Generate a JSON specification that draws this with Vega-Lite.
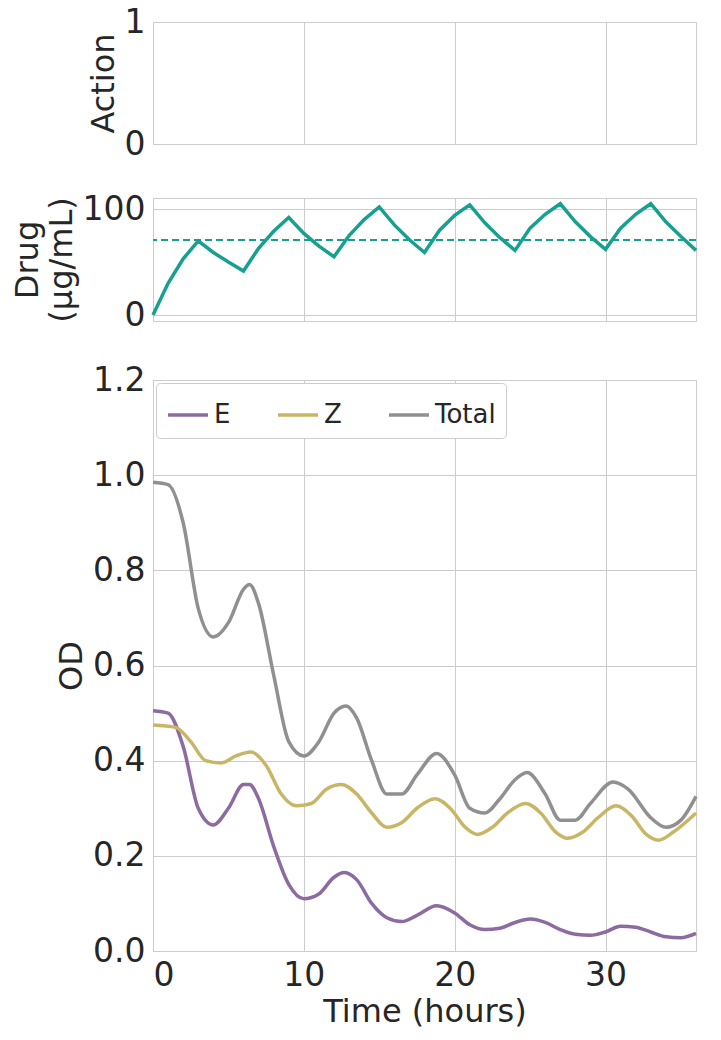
{
 "$schema": "https://vega.github.io/schema/vega-lite/v6.json",
 "padding": {"left": 10, "top": 5, "right": 8, "bottom": 5},
 "spacing": 30,
 "resolve": {"scale": {"color": "independent"}, "legend": {"color": "independent"}},
 "config": {
  "font": "DejaVu Sans",
  "view": {"stroke": "#cccccc"},
  "axis": {"domain": false, "ticks": false, "gridColor": "#cccccc", "labelFontSize": 33, "titleFontSize": 32, "labelColor": "#262626", "titleColor": "#262626", "titleFontWeight": "normal", "labelPadding": 8},
  "legend": {"labelFontSize": 26, "labelColor": "#262626"}
 },
 "datasets": {
  "action": [{"t": 0, "a": 0}, {"t": 36, "a": 0}],
  "drug": [
   {"t":0,"d":0},{"t":1,"d":30},{"t":2,"d":53},{"t":3,"d":70},{"t":4,"d":59},{"t":5,"d":50},{"t":6,"d":41.5},
   {"t":7,"d":63},{"t":8,"d":79},{"t":9,"d":92},{"t":10,"d":77},{"t":11,"d":65},{"t":12,"d":55},
   {"t":13,"d":75},{"t":14,"d":90},{"t":15,"d":102},{"t":16,"d":85},{"t":17,"d":71},{"t":18,"d":59},
   {"t":19,"d":80},{"t":20,"d":94},{"t":21,"d":104},{"t":22,"d":87},{"t":23,"d":73},{"t":24,"d":61},
   {"t":25,"d":82},{"t":26,"d":95},{"t":27,"d":105},{"t":28,"d":88},{"t":29,"d":74},{"t":30,"d":62},
   {"t":31,"d":82},{"t":32,"d":95},{"t":33,"d":105},{"t":34,"d":88},{"t":35,"d":74},{"t":36,"d":61}
  ],
  "od": [
   {"s":"Total","t":0,"v":0.985},{"s":"Total","t":1,"v":0.98},{"s":"Total","t":2,"v":0.9},{"s":"Total","t":3,"v":0.72},{"s":"Total","t":4,"v":0.66},{"s":"Total","t":5,"v":0.69},{"s":"Total","t":6,"v":0.76},{"s":"Total","t":6.4,"v":0.77},{"s":"Total","t":7,"v":0.73},{"s":"Total","t":8,"v":0.58},{"s":"Total","t":9,"v":0.44},{"s":"Total","t":10,"v":0.41},{"s":"Total","t":11,"v":0.44},{"s":"Total","t":12,"v":0.5},{"s":"Total","t":12.8,"v":0.515},{"s":"Total","t":13.5,"v":0.49},{"s":"Total","t":14.5,"v":0.4},{"s":"Total","t":15.5,"v":0.33},{"s":"Total","t":16.5,"v":0.33},{"s":"Total","t":17.5,"v":0.37},{"s":"Total","t":18.8,"v":0.415},{"s":"Total","t":20,"v":0.37},{"s":"Total","t":21,"v":0.3},{"s":"Total","t":22,"v":0.29},{"s":"Total","t":23,"v":0.32},{"s":"Total","t":24,"v":0.36},{"s":"Total","t":24.8,"v":0.375},{"s":"Total","t":26,"v":0.33},{"s":"Total","t":27,"v":0.275},{"s":"Total","t":28,"v":0.275},{"s":"Total","t":29,"v":0.31},{"s":"Total","t":30.5,"v":0.355},{"s":"Total","t":31.5,"v":0.34},{"s":"Total","t":33,"v":0.28},{"s":"Total","t":34,"v":0.26},{"s":"Total","t":35,"v":0.275},{"s":"Total","t":36,"v":0.325},
   {"s":"E","t":0,"v":0.505},{"s":"E","t":1,"v":0.5},{"s":"E","t":2,"v":0.43},{"s":"E","t":3,"v":0.3},{"s":"E","t":4,"v":0.265},{"s":"E","t":5,"v":0.3},{"s":"E","t":6,"v":0.35},{"s":"E","t":6.4,"v":0.35},{"s":"E","t":7,"v":0.32},{"s":"E","t":8,"v":0.22},{"s":"E","t":9,"v":0.14},{"s":"E","t":10,"v":0.11},{"s":"E","t":11,"v":0.12},{"s":"E","t":12,"v":0.155},{"s":"E","t":12.7,"v":0.165},{"s":"E","t":13.5,"v":0.15},{"s":"E","t":14.5,"v":0.1},{"s":"E","t":15.5,"v":0.07},{"s":"E","t":16.5,"v":0.062},{"s":"E","t":17.5,"v":0.075},{"s":"E","t":18.8,"v":0.095},{"s":"E","t":20,"v":0.08},{"s":"E","t":21,"v":0.055},{"s":"E","t":22,"v":0.045},{"s":"E","t":23,"v":0.048},{"s":"E","t":24,"v":0.06},{"s":"E","t":25,"v":0.067},{"s":"E","t":26,"v":0.06},{"s":"E","t":27,"v":0.045},{"s":"E","t":28,"v":0.035},{"s":"E","t":29,"v":0.033},{"s":"E","t":30,"v":0.04},{"s":"E","t":31,"v":0.052},{"s":"E","t":32,"v":0.05},{"s":"E","t":33,"v":0.04},{"s":"E","t":34,"v":0.03},{"s":"E","t":35,"v":0.028},{"s":"E","t":36,"v":0.037},
   {"s":"Z","t":0,"v":0.475},{"s":"Z","t":1.5,"v":0.47},{"s":"Z","t":2.5,"v":0.44},{"s":"Z","t":3.5,"v":0.4},{"s":"Z","t":4.5,"v":0.395},{"s":"Z","t":5.5,"v":0.41},{"s":"Z","t":6.5,"v":0.418},{"s":"Z","t":7.5,"v":0.39},{"s":"Z","t":8.5,"v":0.33},{"s":"Z","t":9.5,"v":0.305},{"s":"Z","t":10.5,"v":0.31},{"s":"Z","t":11.5,"v":0.34},{"s":"Z","t":12.5,"v":0.35},{"s":"Z","t":13.5,"v":0.33},{"s":"Z","t":14.5,"v":0.29},{"s":"Z","t":15.5,"v":0.26},{"s":"Z","t":16.5,"v":0.27},{"s":"Z","t":17.5,"v":0.3},{"s":"Z","t":18.7,"v":0.32},{"s":"Z","t":19.7,"v":0.3},{"s":"Z","t":20.7,"v":0.26},{"s":"Z","t":21.5,"v":0.245},{"s":"Z","t":22.5,"v":0.26},{"s":"Z","t":23.5,"v":0.29},{"s":"Z","t":24.7,"v":0.31},{"s":"Z","t":25.7,"v":0.29},{"s":"Z","t":26.7,"v":0.25},{"s":"Z","t":27.5,"v":0.237},{"s":"Z","t":28.5,"v":0.25},{"s":"Z","t":29.5,"v":0.28},{"s":"Z","t":30.7,"v":0.305},{"s":"Z","t":31.7,"v":0.285},{"s":"Z","t":32.7,"v":0.245},{"s":"Z","t":33.5,"v":0.233},{"s":"Z","t":34.5,"v":0.25},{"s":"Z","t":36,"v":0.29}
  ]
 },
 "vconcat": [
  {
   "width": 543, "height": 122,
   "data": {"name": "action"},
   "mark": {"type": "line", "strokeOpacity": 0},
   "encoding": {
    "x": {"field": "t", "type": "quantitative", "scale": {"domain": [0, 36], "nice": false}, "axis": {"labels": false, "title": null, "labelPadding": 0, "values": [0, 10, 20, 30]}},
    "y": {"field": "a", "type": "quantitative", "scale": {"domain": [0, 1]}, "axis": {"title": "Action", "values": [0, 1], "format": "d", "grid": false}}
   }
  },
  {
   "width": 543, "height": 123,
   "layer": [
    {
     "data": {"name": "drug"},
     "mark": {"type": "line", "color": "#17a08f", "strokeWidth": 3.5},
     "encoding": {
      "x": {"field": "t", "type": "quantitative", "scale": {"domain": [0, 36], "nice": false}, "axis": {"labels": false, "title": null, "labelPadding": 0, "values": [0, 10, 20, 30]}},
      "y": {"field": "d", "type": "quantitative", "scale": {"domain": [-5.6, 110.4], "nice": false, "zero": false}, "axis": {"title": ["Drug", "(µg/mL)"], "values": [0, 100]}}
     }
    },
    {
     "data": {"values": [{"y": 70.7}]},
     "mark": {"type": "rule", "color": "#17a08f", "strokeWidth": 2, "strokeDash": [7, 4]},
     "encoding": {"y": {"field": "y", "type": "quantitative"}}
    }
   ]
  },
  {
   "width": 543, "height": 571,
   "data": {"name": "od"},
   "mark": {"type": "line", "strokeWidth": 3.5, "interpolate": "monotone"},
   "encoding": {
    "x": {"field": "t", "type": "quantitative", "scale": {"domain": [0, 36], "nice": false}, "axis": {"title": "Time (hours)", "values": [0, 10, 20, 30], "titlePadding": 4}},
    "y": {"field": "v", "type": "quantitative", "scale": {"domain": [0, 1.2]}, "axis": {"title": "OD", "values": [0, 0.2, 0.4, 0.6, 0.8, 1.0, 1.2], "format": ".1f"}},
    "color": {"field": "s", "type": "nominal", "sort": ["E", "Z", "Total"],
     "scale": {"domain": ["E", "Z", "Total"], "range": ["#8c6ba0", "#c8b666", "#909090"]},
     "legend": {"title": null, "orient": "top-left", "direction": "horizontal", "columns": 3, "symbolType": "stroke", "symbolStrokeWidth": 3.5, "symbolSize": 1600, "columnPadding": 40, "fillColor": "white", "strokeColor": "#cccccc", "cornerRadius": 4, "padding": 10, "offset": 3}}
   }
  }
 ]
}
